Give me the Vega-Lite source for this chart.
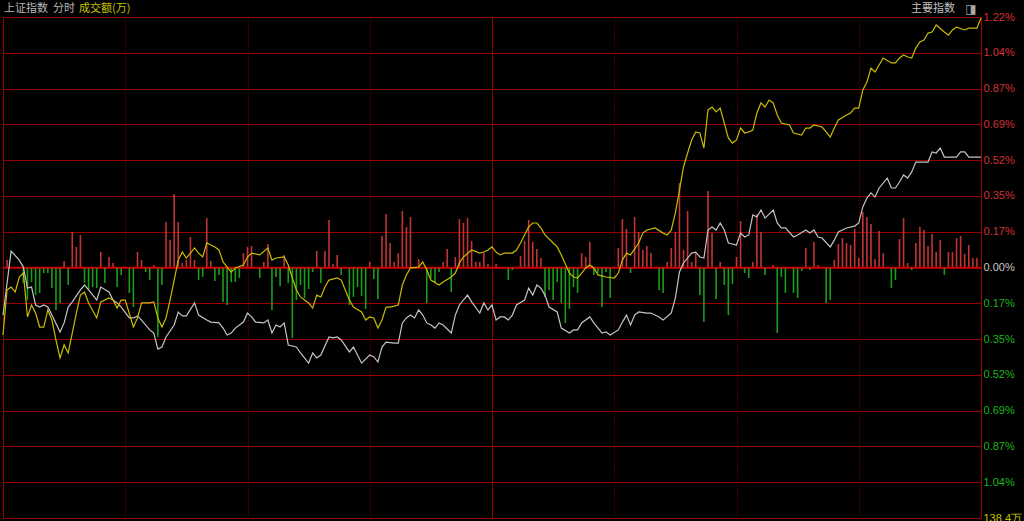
{
  "$schema": "https://vega.github.io/schema/vega-lite/v6.json",
  "width": 978,
  "height": 501,
  "autosize": {"type": "none"},
  "padding": {"left": 3, "top": 17, "right": 43, "bottom": 3},
  "background": "#000000",
  "config": {"view": {"stroke": "#a00000", "strokeWidth": 1}},
  "datasets": {
    "bars": [
      {"m":1,"v":0.036},{"m":5,"v":-0.075},{"m":6,"v":-0.158},{"m":7,"v":-0.070},{"m":8,"v":-0.134},{"m":9,"v":-0.124},{"m":10,"v":-0.027},{"m":11,"v":-0.027},{"m":12,"v":-0.100},{"m":13,"v":-0.206},{"m":14,"v":-0.172},{"m":15,"v":0.032},{"m":16,"v":-0.085},{"m":17,"v":0.172},{"m":18,"v":0.100},{"m":19,"v":0.158},{"m":20,"v":-0.075},{"m":21,"v":-0.109},{"m":22,"v":-0.095},{"m":23,"v":-0.100},{"m":24,"v":0.075},{"m":25,"v":-0.075},{"m":26,"v":0.051},{"m":27,"v":0.022},{"m":28,"v":-0.095},{"m":29,"v":-0.036},{"m":31,"v":-0.124},{"m":32,"v":-0.192},{"m":33,"v":0.075},{"m":34,"v":0.036},{"m":35,"v":-0.022},{"m":36,"v":-0.061},{"m":37,"v":0.012},{"m":38,"v":-0.337},{"m":39,"v":-0.085},{"m":40,"v":0.221},{"m":41,"v":0.133},{"m":42,"v":0.357},{"m":43,"v":0.221},{"m":44,"v":0.022},{"m":45,"v":0.036},{"m":46,"v":0.148},{"m":47,"v":0.036},{"m":48,"v":-0.061},{"m":49,"v":-0.046},{"m":50,"v":0.240},{"m":51,"v":0.032},{"m":52,"v":-0.066},{"m":53,"v":-0.036},{"m":54,"v":-0.167},{"m":55,"v":-0.182},{"m":56,"v":-0.070},{"m":57,"v":-0.070},{"m":58,"v":-0.051},{"m":59,"v":0.070},{"m":60,"v":0.100},{"m":61,"v":0.104},{"m":63,"v":-0.051},{"m":64,"v":0.027},{"m":65,"v":0.114},{"m":66,"v":-0.206},{"m":67,"v":-0.046},{"m":68,"v":-0.090},{"m":69,"v":0.061},{"m":70,"v":-0.075},{"m":71,"v":-0.342},{"m":72,"v":-0.158},{"m":73,"v":-0.085},{"m":74,"v":-0.148},{"m":75,"v":-0.104},{"m":76,"v":-0.022},{"m":77,"v":0.080},{"m":78,"v":-0.075},{"m":79,"v":0.080},{"m":80,"v":0.231},{"m":81,"v":0.017},{"m":82,"v":0.061},{"m":83,"v":-0.036},{"m":85,"v":-0.182},{"m":86,"v":-0.143},{"m":87,"v":-0.095},{"m":88,"v":-0.138},{"m":89,"v":-0.201},{"m":90,"v":0.027},{"m":91,"v":-0.056},{"m":92,"v":-0.153},{"m":93,"v":0.153},{"m":94,"v":0.260},{"m":95,"v":0.119},{"m":96,"v":0.027},{"m":97,"v":0.070},{"m":98,"v":0.274},{"m":99,"v":0.197},{"m":100,"v":0.245},{"m":102,"v":0.041},{"m":104,"v":-0.172},{"m":105,"v":-0.051},{"m":106,"v":-0.075},{"m":107,"v":-0.022},{"m":108,"v":0.027},{"m":109,"v":0.090},{"m":110,"v":-0.119},{"m":111,"v":0.051},{"m":112,"v":0.235},{"m":113,"v":0.216},{"m":114,"v":0.240},{"m":115,"v":0.129},{"m":116,"v":0.027},{"m":117,"v":0.027},{"m":118,"v":0.070},{"m":119,"v":0.017},{"m":121,"v":0.017},{"m":124,"v":-0.061},{"m":125,"v":-0.012},{"m":127,"v":0.056},{"m":128,"v":0.129},{"m":129,"v":0.231},{"m":130,"v":0.124},{"m":131,"v":0.090},{"m":132,"v":0.046},{"m":133,"v":-0.143},{"m":134,"v":-0.109},{"m":135,"v":-0.158},{"m":136,"v":-0.070},{"m":137,"v":-0.172},{"m":138,"v":-0.269},{"m":139,"v":-0.201},{"m":140,"v":-0.095},{"m":141,"v":-0.124},{"m":142,"v":0.070},{"m":143,"v":0.051},{"m":144,"v":0.124},{"m":145,"v":-0.036},{"m":146,"v":-0.027},{"m":147,"v":-0.192},{"m":148,"v":-0.022},{"m":149,"v":-0.148},{"m":151,"v":0.095},{"m":152,"v":0.235},{"m":153,"v":0.187},{"m":154,"v":-0.027},{"m":155,"v":0.245},{"m":156,"v":0.172},{"m":157,"v":0.085},{"m":158,"v":0.104},{"m":159,"v":0.070},{"m":161,"v":-0.109},{"m":162,"v":-0.124},{"m":163,"v":0.027},{"m":164,"v":0.095},{"m":165,"v":0.172},{"m":166,"v":0.410},{"m":167,"v":0.085},{"m":168,"v":0.274},{"m":169,"v":0.027},{"m":170,"v":0.070},{"m":171,"v":-0.134},{"m":172,"v":-0.265},{"m":173,"v":0.371},{"m":174,"v":0.167},{"m":175,"v":-0.153},{"m":176,"v":0.027},{"m":177,"v":-0.085},{"m":178,"v":-0.231},{"m":179,"v":-0.080},{"m":180,"v":0.051},{"m":181,"v":0.226},{"m":182,"v":-0.027},{"m":183,"v":-0.051},{"m":184,"v":0.027},{"m":185,"v":0.260},{"m":186,"v":0.172},{"m":187,"v":-0.036},{"m":189,"v":0.012},{"m":190,"v":-0.318},{"m":191,"v":-0.046},{"m":192,"v":-0.124},{"m":194,"v":-0.124},{"m":195,"v":-0.148},{"m":196,"v":-0.017},{"m":197,"v":0.095},{"m":198,"v":-0.012},{"m":199,"v":0.124},{"m":200,"v":0.012},{"m":202,"v":-0.172},{"m":203,"v":-0.158},{"m":204,"v":0.036},{"m":205,"v":0.114},{"m":206,"v":0.143},{"m":207,"v":0.119},{"m":208,"v":0.109},{"m":209,"v":0.187},{"m":210,"v":0.046},{"m":211,"v":0.269},{"m":212,"v":0.245},{"m":213,"v":0.211},{"m":214,"v":0.041},{"m":215,"v":0.177},{"m":216,"v":0.070},{"m":218,"v":-0.100},{"m":219,"v":-0.061},{"m":220,"v":0.138},{"m":221,"v":0.240},{"m":222,"v":0.022},{"m":223,"v":-0.012},{"m":224,"v":0.119},{"m":225,"v":0.197},{"m":226,"v":0.182},{"m":227,"v":0.104},{"m":228,"v":0.163},{"m":229,"v":0.075},{"m":230,"v":0.133},{"m":231,"v":-0.036},{"m":232,"v":0.075},{"m":233,"v":0.075},{"m":234,"v":0.143},{"m":235,"v":0.153},{"m":236,"v":0.066},{"m":237,"v":0.109},{"m":238,"v":0.046},{"m":239,"v":0.046}
    ],
    "lines": [
      {"s":"index","m":0,"v":-0.231},{"s":"index","m":2,"v":0.080},{"s":"index","m":4,"v":0.036},{"s":"index","m":5,"v":0.002},{"s":"index","m":6,"v":-0.100},{"s":"index","m":7,"v":-0.095},{"s":"index","m":8,"v":-0.182},{"s":"index","m":9,"v":-0.192},{"s":"index","m":10,"v":-0.182},{"s":"index","m":11,"v":-0.192},{"s":"index","m":12,"v":-0.231},{"s":"index","m":14,"v":-0.313},{"s":"index","m":15,"v":-0.269},{"s":"index","m":16,"v":-0.192},{"s":"index","m":17,"v":-0.167},{"s":"index","m":19,"v":-0.109},{"s":"index","m":20,"v":-0.085},{"s":"index","m":21,"v":-0.109},{"s":"index","m":23,"v":-0.158},{"s":"index","m":24,"v":-0.095},{"s":"index","m":26,"v":-0.119},{"s":"index","m":27,"v":-0.158},{"s":"index","m":28,"v":-0.172},{"s":"index","m":29,"v":-0.192},{"s":"index","m":31,"v":-0.245},{"s":"index","m":32,"v":-0.245},{"s":"index","m":33,"v":-0.235},{"s":"index","m":34,"v":-0.255},{"s":"index","m":36,"v":-0.303},{"s":"index","m":37,"v":-0.318},{"s":"index","m":38,"v":-0.396},{"s":"index","m":39,"v":-0.386},{"s":"index","m":40,"v":-0.337},{"s":"index","m":42,"v":-0.279},{"s":"index","m":43,"v":-0.216},{"s":"index","m":44,"v":-0.235},{"s":"index","m":45,"v":-0.235},{"s":"index","m":47,"v":-0.172},{"s":"index","m":48,"v":-0.231},{"s":"index","m":50,"v":-0.255},{"s":"index","m":51,"v":-0.265},{"s":"index","m":53,"v":-0.269},{"s":"index","m":54,"v":-0.294},{"s":"index","m":55,"v":-0.328},{"s":"index","m":56,"v":-0.318},{"s":"index","m":57,"v":-0.294},{"s":"index","m":59,"v":-0.265},{"s":"index","m":60,"v":-0.221},{"s":"index","m":61,"v":-0.240},{"s":"index","m":62,"v":-0.265},{"s":"index","m":64,"v":-0.269},{"s":"index","m":65,"v":-0.255},{"s":"index","m":66,"v":-0.318},{"s":"index","m":67,"v":-0.279},{"s":"index","m":68,"v":-0.289},{"s":"index","m":69,"v":-0.269},{"s":"index","m":70,"v":-0.376},{"s":"index","m":72,"v":-0.386},{"s":"index","m":73,"v":-0.415},{"s":"index","m":75,"v":-0.464},{"s":"index","m":76,"v":-0.415},{"s":"index","m":77,"v":-0.439},{"s":"index","m":78,"v":-0.425},{"s":"index","m":80,"v":-0.337},{"s":"index","m":81,"v":-0.342},{"s":"index","m":82,"v":-0.337},{"s":"index","m":83,"v":-0.352},{"s":"index","m":85,"v":-0.410},{"s":"index","m":86,"v":-0.386},{"s":"index","m":87,"v":-0.425},{"s":"index","m":88,"v":-0.464},{"s":"index","m":90,"v":-0.425},{"s":"index","m":91,"v":-0.434},{"s":"index","m":92,"v":-0.459},{"s":"index","m":93,"v":-0.386},{"s":"index","m":94,"v":-0.362},{"s":"index","m":96,"v":-0.367},{"s":"index","m":97,"v":-0.367},{"s":"index","m":98,"v":-0.269},{"s":"index","m":99,"v":-0.245},{"s":"index","m":100,"v":-0.231},{"s":"index","m":101,"v":-0.245},{"s":"index","m":102,"v":-0.206},{"s":"index","m":103,"v":-0.231},{"s":"index","m":104,"v":-0.269},{"s":"index","m":105,"v":-0.279},{"s":"index","m":106,"v":-0.294},{"s":"index","m":107,"v":-0.269},{"s":"index","m":108,"v":-0.279},{"s":"index","m":110,"v":-0.318},{"s":"index","m":111,"v":-0.231},{"s":"index","m":112,"v":-0.182},{"s":"index","m":114,"v":-0.134},{"s":"index","m":115,"v":-0.167},{"s":"index","m":117,"v":-0.221},{"s":"index","m":118,"v":-0.172},{"s":"index","m":119,"v":-0.206},{"s":"index","m":120,"v":-0.182},{"s":"index","m":121,"v":-0.255},{"s":"index","m":122,"v":-0.240},{"s":"index","m":123,"v":-0.240},{"s":"index","m":124,"v":-0.255},{"s":"index","m":125,"v":-0.231},{"s":"index","m":126,"v":-0.182},{"s":"index","m":128,"v":-0.158},{"s":"index","m":129,"v":-0.100},{"s":"index","m":130,"v":-0.134},{"s":"index","m":131,"v":-0.085},{"s":"index","m":132,"v":-0.100},{"s":"index","m":133,"v":-0.134},{"s":"index","m":134,"v":-0.192},{"s":"index","m":136,"v":-0.216},{"s":"index","m":137,"v":-0.294},{"s":"index","m":139,"v":-0.318},{"s":"index","m":140,"v":-0.303},{"s":"index","m":141,"v":-0.303},{"s":"index","m":142,"v":-0.269},{"s":"index","m":144,"v":-0.240},{"s":"index","m":145,"v":-0.269},{"s":"index","m":147,"v":-0.318},{"s":"index","m":148,"v":-0.313},{"s":"index","m":149,"v":-0.328},{"s":"index","m":151,"v":-0.303},{"s":"index","m":152,"v":-0.265},{"s":"index","m":153,"v":-0.231},{"s":"index","m":154,"v":-0.279},{"s":"index","m":155,"v":-0.231},{"s":"index","m":156,"v":-0.216},{"s":"index","m":158,"v":-0.221},{"s":"index","m":159,"v":-0.221},{"s":"index","m":161,"v":-0.240},{"s":"index","m":162,"v":-0.255},{"s":"index","m":164,"v":-0.221},{"s":"index","m":165,"v":-0.148},{"s":"index","m":166,"v":-0.022},{"s":"index","m":167,"v":0.022},{"s":"index","m":169,"v":0.070},{"s":"index","m":170,"v":0.075},{"s":"index","m":171,"v":0.051},{"s":"index","m":172,"v":0.046},{"s":"index","m":173,"v":0.182},{"s":"index","m":174,"v":0.197},{"s":"index","m":175,"v":0.182},{"s":"index","m":176,"v":0.216},{"s":"index","m":177,"v":0.182},{"s":"index","m":178,"v":0.119},{"s":"index","m":180,"v":0.109},{"s":"index","m":181,"v":0.167},{"s":"index","m":182,"v":0.148},{"s":"index","m":183,"v":0.158},{"s":"index","m":184,"v":0.255},{"s":"index","m":185,"v":0.245},{"s":"index","m":186,"v":0.279},{"s":"index","m":187,"v":0.240},{"s":"index","m":189,"v":0.279},{"s":"index","m":190,"v":0.216},{"s":"index","m":191,"v":0.192},{"s":"index","m":192,"v":0.192},{"s":"index","m":194,"v":0.148},{"s":"index","m":195,"v":0.158},{"s":"index","m":197,"v":0.182},{"s":"index","m":198,"v":0.167},{"s":"index","m":199,"v":0.182},{"s":"index","m":200,"v":0.148},{"s":"index","m":201,"v":0.143},{"s":"index","m":203,"v":0.100},{"s":"index","m":204,"v":0.133},{"s":"index","m":205,"v":0.172},{"s":"index","m":207,"v":0.192},{"s":"index","m":209,"v":0.201},{"s":"index","m":210,"v":0.216},{"s":"index","m":211,"v":0.294},{"s":"index","m":212,"v":0.337},{"s":"index","m":213,"v":0.362},{"s":"index","m":214,"v":0.342},{"s":"index","m":215,"v":0.386},{"s":"index","m":217,"v":0.434},{"s":"index","m":218,"v":0.386},{"s":"index","m":219,"v":0.386},{"s":"index","m":220,"v":0.415},{"s":"index","m":221,"v":0.449},{"s":"index","m":222,"v":0.434},{"s":"index","m":223,"v":0.464},{"s":"index","m":224,"v":0.512},{"s":"index","m":226,"v":0.512},{"s":"index","m":227,"v":0.512},{"s":"index","m":228,"v":0.561},{"s":"index","m":229,"v":0.556},{"s":"index","m":230,"v":0.580},{"s":"index","m":231,"v":0.536},{"s":"index","m":232,"v":0.536},{"s":"index","m":234,"v":0.536},{"s":"index","m":235,"v":0.561},{"s":"index","m":236,"v":0.561},{"s":"index","m":237,"v":0.536},{"s":"index","m":240,"v":0.536},
      {"s":"lead","m":0,"v":-0.328},{"s":"lead","m":1,"v":-0.109},{"s":"lead","m":2,"v":-0.095},{"s":"lead","m":3,"v":-0.119},{"s":"lead","m":4,"v":-0.046},{"s":"lead","m":5,"v":-0.027},{"s":"lead","m":6,"v":-0.240},{"s":"lead","m":7,"v":-0.182},{"s":"lead","m":8,"v":-0.221},{"s":"lead","m":9,"v":-0.289},{"s":"lead","m":10,"v":-0.289},{"s":"lead","m":11,"v":-0.206},{"s":"lead","m":12,"v":-0.255},{"s":"lead","m":13,"v":-0.352},{"s":"lead","m":14,"v":-0.439},{"s":"lead","m":15,"v":-0.376},{"s":"lead","m":16,"v":-0.415},{"s":"lead","m":17,"v":-0.318},{"s":"lead","m":18,"v":-0.221},{"s":"lead","m":19,"v":-0.134},{"s":"lead","m":20,"v":-0.119},{"s":"lead","m":21,"v":-0.172},{"s":"lead","m":23,"v":-0.245},{"s":"lead","m":24,"v":-0.167},{"s":"lead","m":26,"v":-0.148},{"s":"lead","m":27,"v":-0.158},{"s":"lead","m":28,"v":-0.197},{"s":"lead","m":29,"v":-0.158},{"s":"lead","m":30,"v":-0.158},{"s":"lead","m":32,"v":-0.289},{"s":"lead","m":33,"v":-0.245},{"s":"lead","m":34,"v":-0.172},{"s":"lead","m":35,"v":-0.172},{"s":"lead","m":36,"v":-0.172},{"s":"lead","m":37,"v":-0.167},{"s":"lead","m":38,"v":-0.245},{"s":"lead","m":39,"v":-0.289},{"s":"lead","m":40,"v":-0.245},{"s":"lead","m":41,"v":-0.158},{"s":"lead","m":42,"v":-0.061},{"s":"lead","m":43,"v":0.036},{"s":"lead","m":44,"v":0.075},{"s":"lead","m":45,"v":0.046},{"s":"lead","m":46,"v":0.070},{"s":"lead","m":47,"v":0.095},{"s":"lead","m":48,"v":0.070},{"s":"lead","m":49,"v":0.051},{"s":"lead","m":50,"v":0.119},{"s":"lead","m":51,"v":0.109},{"s":"lead","m":52,"v":0.100},{"s":"lead","m":53,"v":0.085},{"s":"lead","m":54,"v":0.027},{"s":"lead","m":55,"v":0.002},{"s":"lead","m":56,"v":-0.022},{"s":"lead","m":57,"v":-0.002},{"s":"lead","m":59,"v":0.012},{"s":"lead","m":60,"v":0.051},{"s":"lead","m":61,"v":0.070},{"s":"lead","m":63,"v":0.061},{"s":"lead","m":65,"v":0.095},{"s":"lead","m":66,"v":0.036},{"s":"lead","m":67,"v":0.046},{"s":"lead","m":69,"v":0.051},{"s":"lead","m":70,"v":0.012},{"s":"lead","m":71,"v":-0.051},{"s":"lead","m":72,"v":-0.109},{"s":"lead","m":73,"v":-0.143},{"s":"lead","m":75,"v":-0.172},{"s":"lead","m":76,"v":-0.197},{"s":"lead","m":77,"v":-0.134},{"s":"lead","m":78,"v":-0.143},{"s":"lead","m":79,"v":-0.095},{"s":"lead","m":80,"v":-0.061},{"s":"lead","m":82,"v":-0.051},{"s":"lead","m":83,"v":-0.061},{"s":"lead","m":84,"v":-0.109},{"s":"lead","m":85,"v":-0.158},{"s":"lead","m":86,"v":-0.192},{"s":"lead","m":88,"v":-0.216},{"s":"lead","m":89,"v":-0.255},{"s":"lead","m":90,"v":-0.240},{"s":"lead","m":91,"v":-0.245},{"s":"lead","m":92,"v":-0.294},{"s":"lead","m":93,"v":-0.255},{"s":"lead","m":94,"v":-0.192},{"s":"lead","m":95,"v":-0.192},{"s":"lead","m":97,"v":-0.182},{"s":"lead","m":98,"v":-0.085},{"s":"lead","m":99,"v":-0.036},{"s":"lead","m":100,"v":-0.002},{"s":"lead","m":102,"v":0.002},{"s":"lead","m":103,"v":0.027},{"s":"lead","m":104,"v":-0.012},{"s":"lead","m":105,"v":-0.061},{"s":"lead","m":107,"v":-0.085},{"s":"lead","m":108,"v":-0.070},{"s":"lead","m":110,"v":-0.046},{"s":"lead","m":111,"v":-0.027},{"s":"lead","m":112,"v":0.022},{"s":"lead","m":113,"v":0.051},{"s":"lead","m":115,"v":0.085},{"s":"lead","m":117,"v":0.070},{"s":"lead","m":118,"v":0.075},{"s":"lead","m":119,"v":0.085},{"s":"lead","m":120,"v":0.100},{"s":"lead","m":121,"v":0.075},{"s":"lead","m":122,"v":0.061},{"s":"lead","m":123,"v":0.070},{"s":"lead","m":125,"v":0.070},{"s":"lead","m":126,"v":0.085},{"s":"lead","m":127,"v":0.119},{"s":"lead","m":129,"v":0.197},{"s":"lead","m":130,"v":0.216},{"s":"lead","m":131,"v":0.216},{"s":"lead","m":132,"v":0.192},{"s":"lead","m":133,"v":0.158},{"s":"lead","m":135,"v":0.119},{"s":"lead","m":136,"v":0.100},{"s":"lead","m":137,"v":0.061},{"s":"lead","m":139,"v":-0.027},{"s":"lead","m":140,"v":-0.046},{"s":"lead","m":141,"v":-0.051},{"s":"lead","m":142,"v":-0.027},{"s":"lead","m":143,"v":-0.002},{"s":"lead","m":144,"v":0.012},{"s":"lead","m":145,"v":-0.002},{"s":"lead","m":146,"v":-0.036},{"s":"lead","m":148,"v":-0.046},{"s":"lead","m":150,"v":-0.051},{"s":"lead","m":151,"v":-0.027},{"s":"lead","m":152,"v":0.036},{"s":"lead","m":153,"v":0.070},{"s":"lead","m":154,"v":0.061},{"s":"lead","m":156,"v":0.119},{"s":"lead","m":157,"v":0.167},{"s":"lead","m":158,"v":0.182},{"s":"lead","m":160,"v":0.192},{"s":"lead","m":162,"v":0.167},{"s":"lead","m":163,"v":0.158},{"s":"lead","m":164,"v":0.182},{"s":"lead","m":165,"v":0.265},{"s":"lead","m":166,"v":0.376},{"s":"lead","m":167,"v":0.488},{"s":"lead","m":168,"v":0.556},{"s":"lead","m":169,"v":0.619},{"s":"lead","m":170,"v":0.658},{"s":"lead","m":171,"v":0.653},{"s":"lead","m":172,"v":0.580},{"s":"lead","m":173,"v":0.765},{"s":"lead","m":174,"v":0.779},{"s":"lead","m":175,"v":0.755},{"s":"lead","m":176,"v":0.774},{"s":"lead","m":177,"v":0.701},{"s":"lead","m":178,"v":0.629},{"s":"lead","m":179,"v":0.604},{"s":"lead","m":180,"v":0.619},{"s":"lead","m":181,"v":0.677},{"s":"lead","m":182,"v":0.653},{"s":"lead","m":183,"v":0.658},{"s":"lead","m":184,"v":0.667},{"s":"lead","m":185,"v":0.750},{"s":"lead","m":186,"v":0.799},{"s":"lead","m":187,"v":0.779},{"s":"lead","m":188,"v":0.813},{"s":"lead","m":189,"v":0.799},{"s":"lead","m":190,"v":0.740},{"s":"lead","m":191,"v":0.701},{"s":"lead","m":193,"v":0.692},{"s":"lead","m":194,"v":0.653},{"s":"lead","m":196,"v":0.643},{"s":"lead","m":197,"v":0.677},{"s":"lead","m":198,"v":0.677},{"s":"lead","m":199,"v":0.692},{"s":"lead","m":201,"v":0.682},{"s":"lead","m":202,"v":0.658},{"s":"lead","m":203,"v":0.633},{"s":"lead","m":204,"v":0.677},{"s":"lead","m":205,"v":0.716},{"s":"lead","m":207,"v":0.740},{"s":"lead","m":208,"v":0.750},{"s":"lead","m":209,"v":0.774},{"s":"lead","m":210,"v":0.774},{"s":"lead","m":211,"v":0.862},{"s":"lead","m":212,"v":0.900},{"s":"lead","m":213,"v":0.968},{"s":"lead","m":214,"v":0.949},{"s":"lead","m":215,"v":0.983},{"s":"lead","m":216,"v":1.017},{"s":"lead","m":218,"v":0.993},{"s":"lead","m":219,"v":0.993},{"s":"lead","m":220,"v":1.017},{"s":"lead","m":221,"v":1.032},{"s":"lead","m":222,"v":1.022},{"s":"lead","m":223,"v":1.017},{"s":"lead","m":224,"v":1.065},{"s":"lead","m":225,"v":1.095},{"s":"lead","m":226,"v":1.104},{"s":"lead","m":227,"v":1.138},{"s":"lead","m":228,"v":1.143},{"s":"lead","m":229,"v":1.177},{"s":"lead","m":231,"v":1.143},{"s":"lead","m":232,"v":1.128},{"s":"lead","m":233,"v":1.153},{"s":"lead","m":234,"v":1.167},{"s":"lead","m":236,"v":1.153},{"s":"lead","m":237,"v":1.162},{"s":"lead","m":239,"v":1.162},{"s":"lead","m":240,"v":1.211}
    ]
  },
  "layer": [
    {
      "data": {"name": "bars"},
      "mark": {"type": "rule", "strokeWidth": 1.6},
      "encoding": {
        "x": {"field": "m", "type": "quantitative", "title": null,
          "scale": {"domain": [0, 240], "nice": false, "zero": false},
          "axis": {"values": [30, 60, 90, 120, 150, 180, 210], "tickCount": 30, "grid": true, "labels": false, "ticks": false, "domain": false, "title": null,
            "gridColor": {"condition": {"test": "datum.value === 120", "value": "#a00000"}, "value": "#840000"},
            "gridDash": {"condition": {"test": "datum.value === 120", "value": []}, "value": [1, 2]},
            "gridWidth": 1}},
        "y": {"field": "v", "type": "quantitative", "title": null,
          "scale": {"domain": [-1.216, 1.216], "nice": false, "zero": false},
          "axis": {"orient": "right", "title": null, "domain": false, "ticks": false, "grid": true, "tickCount": 30,
            "values": [-1.216, -1.0423, -0.8686, -0.6949, -0.5211, -0.3474, -0.1737, 0, 0.1737, 0.3474, 0.5211, 0.6949, 0.8686, 1.0423, 1.216],
            "gridColor": "#960000", "gridWidth": 1,
            "labelPadding": 2, "labelFont": "Liberation Sans", "labelFontSize": 11, "labelFlush": false, "labelOverlap": false, "labelBaseline": "middle",
            "labelExpr": "datum.value < -1.2 ? '138.4万' : format(abs(datum.value), '.2f') + '%'",
            "labelColor": {"condition": [
              {"test": "datum.value < -1.2", "value": "#c8c000"},
              {"test": "datum.value > 0.01", "value": "#d23232"},
              {"test": "datum.value < -0.01", "value": "#1eb41e"}], "value": "#c8c8c8"}}},
        "y2": {"datum": 0},
        "color": {"condition": {"test": "datum.v > 0", "value": "#c23434"}, "value": "#1a9e1a"}
      }
    },
    {
      "data": {"values": [{}]},
      "mark": {"type": "rule", "color": "#d00000", "strokeWidth": 1.6},
      "encoding": {"y": {"datum": 0}}
    },
    {
      "data": {"name": "lines"},
      "mark": {"type": "line", "strokeWidth": 1.2, "interpolate": "linear"},
      "encoding": {
        "x": {"field": "m", "type": "quantitative", "title": null},
        "y": {"field": "v", "type": "quantitative", "title": null},
        "color": {"field": "s", "type": "nominal", "legend": null,
          "scale": {"domain": ["index", "lead"], "range": ["#c4c4c4", "#c8bc00"]}}
      }
    },
    {
      "data": {"values": [{}]},
      "mark": {"type": "text", "text": "上证指数", "font": "Noto Sans CJK SC", "fontSize": 11, "color": "#b8b8b8", "align": "left", "baseline": "middle", "dx": 1, "dy": -8},
      "encoding": {"x": {"datum": 0}, "y": {"datum": 1.216}}
    },
    {
      "data": {"values": [{}]},
      "mark": {"type": "text", "text": "分时", "font": "Noto Sans CJK SC", "fontSize": 11, "color": "#b8b8b8", "align": "left", "baseline": "middle", "dx": 50, "dy": -8},
      "encoding": {"x": {"datum": 0}, "y": {"datum": 1.216}}
    },
    {
      "data": {"values": [{}]},
      "mark": {"type": "text", "text": "成交额(万)", "font": "Noto Sans CJK SC", "fontSize": 11, "color": "#c8c000", "align": "left", "baseline": "middle", "dx": 76, "dy": -8},
      "encoding": {"x": {"datum": 0}, "y": {"datum": 1.216}}
    },
    {
      "data": {"values": [{}]},
      "mark": {"type": "text", "text": "主要指数", "font": "Noto Sans CJK SC", "fontSize": 11, "color": "#c0c0c0", "align": "right", "baseline": "middle", "dx": -26, "dy": -8},
      "encoding": {"x": {"datum": 240}, "y": {"datum": 1.216}}
    },
    {
      "data": {"values": [{}]},
      "mark": {"type": "text", "text": "◨", "font": "DejaVu Sans", "fontSize": 12, "color": "#a8a8a8", "align": "center", "baseline": "middle", "dx": -10, "dy": -8},
      "encoding": {"x": {"datum": 240}, "y": {"datum": 1.216}}
    }
  ]
}
